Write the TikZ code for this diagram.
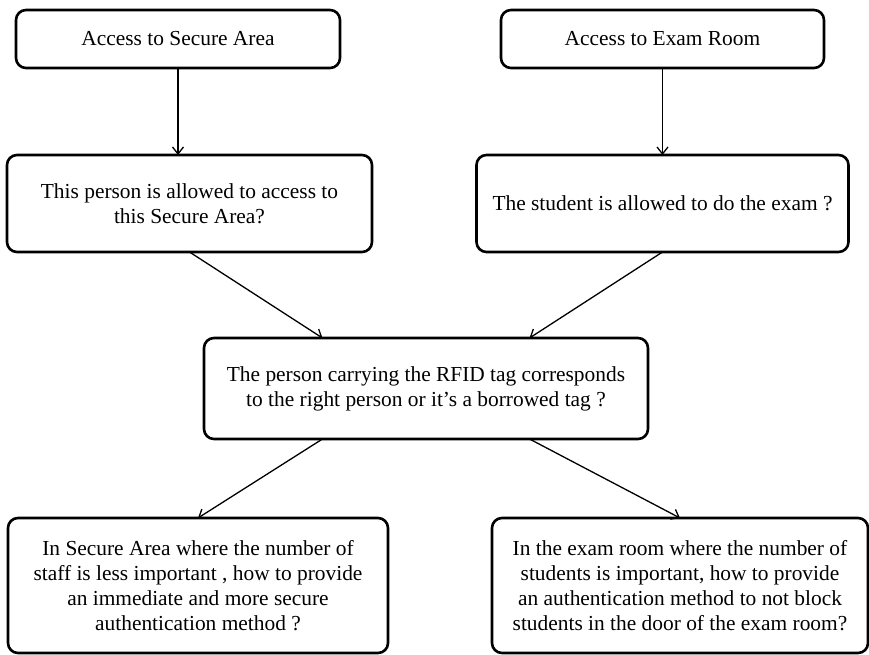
\documentclass[tikz,border=0pt]{standalone}
\usepackage{fontspec}
\setmainfont{Liberation Serif}
\usetikzlibrary{positioning, arrows.meta, calc}

\begin{document}
\begin{tikzpicture}[
  x=1pt, y=-1pt,
  font=\fontsize{21.4}{25}\selectfont,
  box/.style={draw, line width=2.6pt, rounded corners=10pt, align=center,
              inner sep=0pt, outer sep=0pt},
  flow/.style={-{Straight Barb[length=7pt, width=11pt]}, line width=1.3pt}
]
  \useasboundingbox (0,0) rectangle (869,654);

  % the two entry points
  \node[box, minimum width=324pt, minimum height=58pt] (sec)  at (178,39)   {Access to Secure Area};
  \node[box, minimum width=323pt, minimum height=58pt] (exam) at (662.5,39) {Access to Exam Room};

  \node[box, minimum width=365pt, minimum height=97pt, below=87pt of sec, xshift=11.5pt] (perm)
        {This person is allowed to access to\\this Secure Area?};
  \node[box, minimum width=372pt, minimum height=97pt, below=87pt of exam] (stud)
        {The student is allowed to do the exam ?};

  % shared check in the middle
  \coordinate (mid) at ($(perm.south)!0.5!(stud.south)$);
  \node[box, minimum width=444pt, minimum height=101pt, below=86pt of mid] (tag)
        {The person carrying the RFID tag corresponds\\to the right person or it's a borrowed tag ?};

  \node[box, minimum width=380pt, minimum height=135pt, below=79pt of tag, xshift=-228pt] (secq)
        {In Secure Area where the number of\\staff is less important , how to provide\\an immediate and more secure\\authentication method ?};
  \node[box, minimum width=376pt, minimum height=135pt, below=79pt of tag, xshift=254pt] (examq)
        {In the exam room where the number of\\students is important, how to provide\\an authentication method to not block\\students in the door of the exam room?};

  \draw[flow] (sec.south)  -- (sec.south |- perm.north);
  \draw[flow] (exam.south) -- (exam.south |- stud.north);
  \draw[flow] (perm.south) -- (tag.154);
  \draw[flow] (stud.south) -- (tag.26);
  \draw[flow] (tag.206) -- (secq.north);
  \draw[flow] (tag.334) -- (examq.north);
\end{tikzpicture}
\end{document}
